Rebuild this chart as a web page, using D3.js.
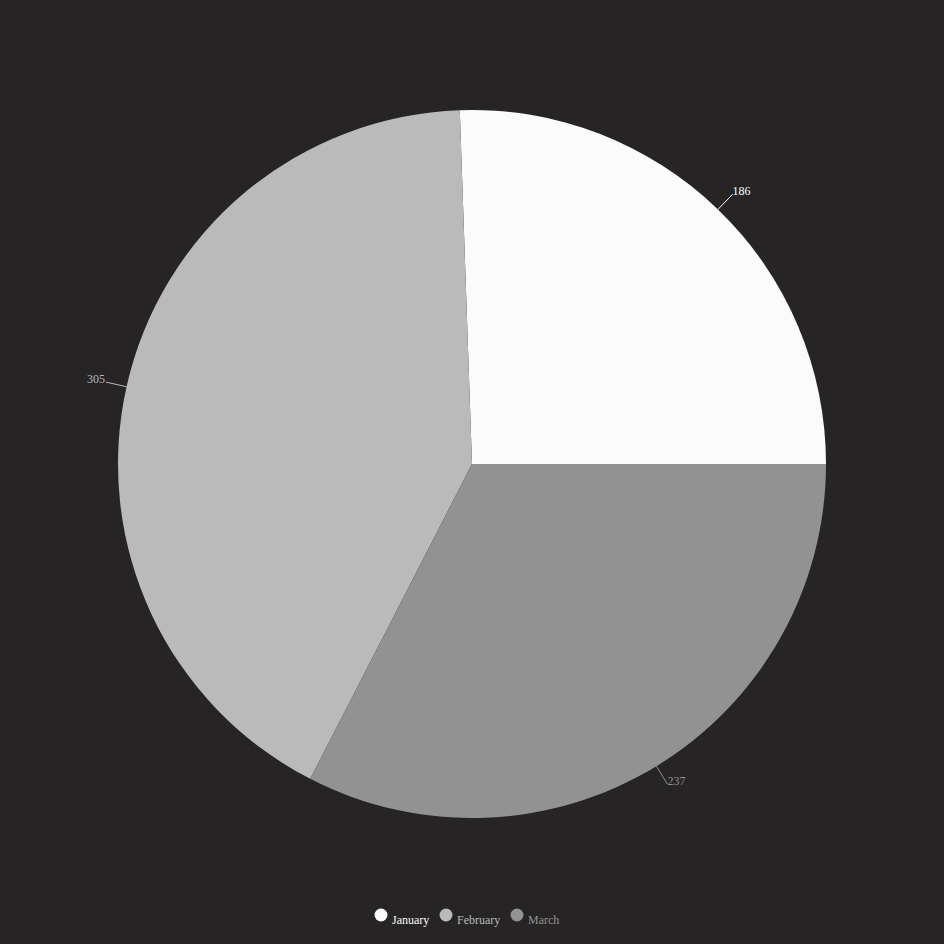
<!DOCTYPE html>
<html>
<head>
<meta charset="utf-8">
<script src="https://cdnjs.cloudflare.com/ajax/libs/d3/7.8.5/d3.min.js"></script>
<style>
  html, body { margin: 0; padding: 0; background: #262425; }
  svg { display: block; }
</style>
</head>
<body>
<svg id="chart" width="944" height="944"></svg>
<script>
// chart data
var categories = ['January', 'February', 'March'];
var values = [186, 305, 237];
var colors = ['#fbfbfb', '#bababa', '#929292'];

var width = 944, height = 944;
var cx = 472, cy = 464, radius = 354;

var svg = d3.select('#chart');
svg.append('rect').attr('width', width).attr('height', height).attr('fill', '#262425');

var color = d3.scaleOrdinal().domain(categories).range(colors);

var data = categories.map(function(c, i){ return {name: c, value: values[i]}; });

// counter-clockwise, starting at 3 o'clock
var pie = d3.pie()
    .sort(null)
    .value(function(d){ return d.value; })
    .startAngle(Math.PI / 2)
    .endAngle(Math.PI / 2 - 2 * Math.PI);

var arcs = pie(data);
var arc = d3.arc().innerRadius(0).outerRadius(radius);

var g = svg.append('g').attr('transform', 'translate(' + cx + ',' + cy + ')');

g.selectAll('path.slice')
    .data(arcs)
    .enter()
    .append('path')
    .attr('class', 'slice')
    .attr('d', arc)
    .attr('fill', function(d){ return color(d.data.name); });

// label leader lines
function pointAt(a, r){
    return [Math.sin(a) * r, -Math.cos(a) * r];
}

var labels = g.selectAll('g.label')
    .data(arcs)
    .enter()
    .append('g')
    .attr('class', 'label');

labels.append('line')
    .attr('x1', function(d){ return pointAt((d.startAngle + d.endAngle) / 2, radius)[0]; })
    .attr('y1', function(d){ return pointAt((d.startAngle + d.endAngle) / 2, radius)[1]; })
    .attr('x2', function(d){ return pointAt((d.startAngle + d.endAngle) / 2, radius + 21)[0]; })
    .attr('y2', function(d){ return pointAt((d.startAngle + d.endAngle) / 2, radius + 21)[1]; })
    .attr('stroke', function(d){ return color(d.data.name); })
    .attr('stroke-width', 1);

labels.append('text')
    .attr('x', function(d){
        var p = pointAt((d.startAngle + d.endAngle) / 2, radius + 21);
        return p[0] + (p[0] < 0 ? -1 : 0);
    })
    .attr('y', function(d){ return pointAt((d.startAngle + d.endAngle) / 2, radius + 21)[1] + 1; })
    .attr('text-anchor', function(d){ return pointAt((d.startAngle + d.endAngle) / 2, 1)[0] < 0 ? 'end' : 'start'; })
    .attr('font-family', '"Liberation Serif", serif')
    .attr('font-size', 12)
    .attr('fill', function(d){ return color(d.data.name); })
    .text(function(d){ return d.data.value; });

// legend
var legendX = [381, 446, 517];
var legend = svg.append('g').attr('class', 'legend');
var items = legend.selectAll('g')
    .data(categories)
    .enter()
    .append('g')
    .attr('transform', function(d, i){ return 'translate(' + legendX[i] + ',915)'; });

items.append('circle')
    .attr('r', 6.5)
    .attr('fill', function(d){ return color(d); });

items.append('text')
    .attr('x', 11)
    .attr('y', 9)
    .attr('font-family', '"Liberation Serif", serif')
    .attr('font-size', 12)
    .attr('fill', function(d){ return color(d); })
    .text(function(d){ return d; });
</script>
</body>
</html>
